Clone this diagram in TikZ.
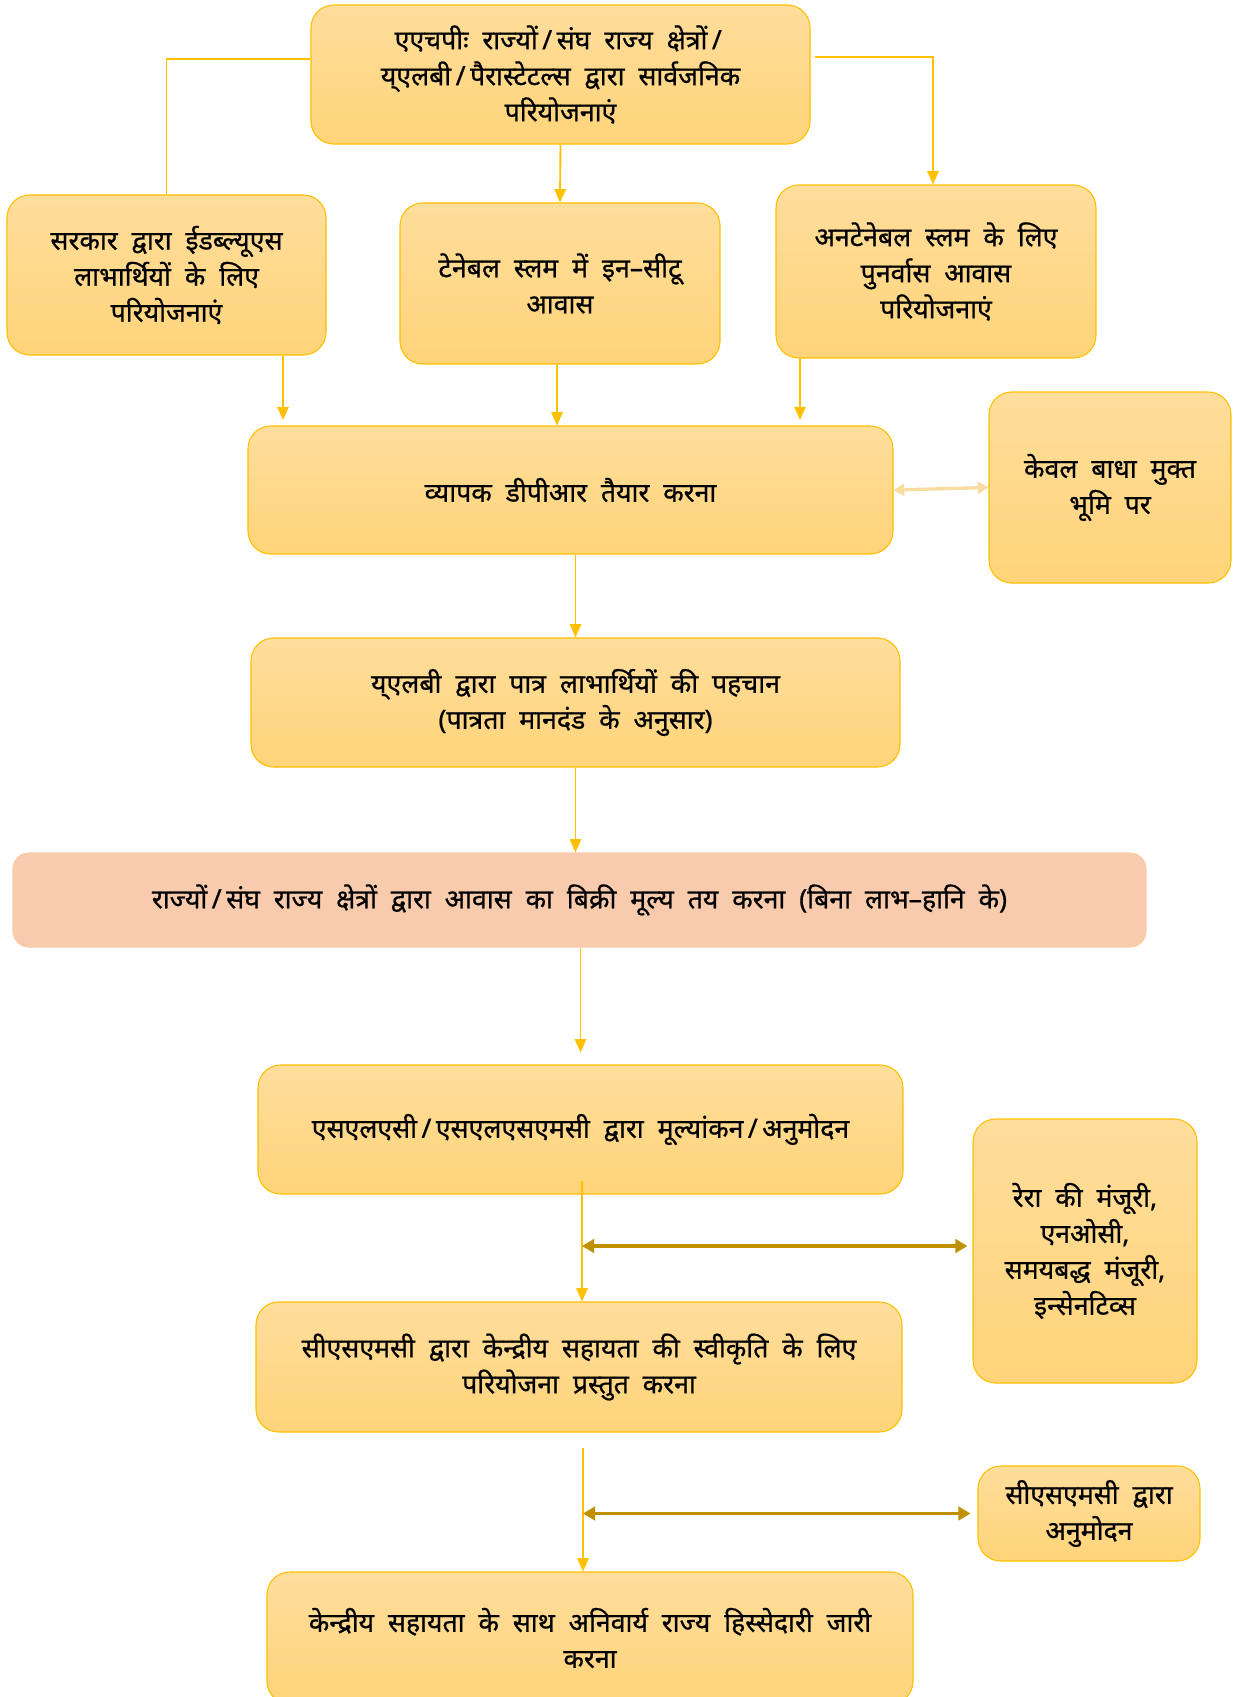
\documentclass[tikz,border=0pt]{standalone}
\usepackage{fontspec}
\newfontfamily\dev[Script=Devanagari,WordSpace=2,FakeBold=0.7]{Noto Sans}
\usetikzlibrary{arrows.meta,calc}
\definecolor{gold}{HTML}{FFC000}
\definecolor{dgold}{HTML}{BF9000}
\definecolor{palegold}{HTML}{F8DCA0}
\definecolor{boxtop}{HTML}{FFDD9C}
\definecolor{boxbot}{HTML}{FFD479}
\definecolor{salmonfill}{HTML}{F8CBAD}
\newcommand\slsep{\,/\,}
\tikzset{
  bw/.style={minimum width=#1*0.75pt},
  bh/.style={minimum height=#1*0.75pt},
  box/.style={draw=gold, line width=0.8pt, rounded corners=17pt,
    top color=boxtop, bottom color=boxbot, align=center,
    font=\dev\fontsize{20}{27}\selectfont, inner sep=0pt},
  salbox/.style={draw=salmonfill, fill=salmonfill, line width=0.8pt, rounded corners=12pt,
    align=center, font=\dev\fontsize{20}{27}\selectfont, inner sep=0pt},
  ln/.style={draw=gold, line width=1.4pt},
  arr/.style={draw=gold, line width=1.4pt, -{Triangle[width=8.5pt,length=10pt]}},
  darr/.style={draw=dgold, line width=2.5pt,
    {Triangle[width=10pt,length=9pt]}-{Triangle[width=10pt,length=9pt]}},
  parr/.style={draw=palegold, line width=2.5pt,
    {Triangle[width=9pt,length=8pt]}-{Triangle[width=9pt,length=8pt]}},
}
\begin{document}
\begin{tikzpicture}[x=0.75pt,y=-0.75pt]
\clip (0,0) rectangle (1234,1697);
\fill[white] (0,0) rectangle (1234,1697);

\node[box,bw=499,bh=139] (top) at (560.5,74.5)
  {एएचपीः राज्यों\slsep संघ राज्य क्षेत्रों\slsep\\य्एलबी\slsep पैरास्टेटल्स द्वारा सार्वजनिक\\परियोजनाएं};
\node[box,bw=319,bh=160] (left) at (166.5,275)
  {सरकार द्वारा ईडब्ल्यूएस\\लाभार्थियों के लिए\\परियोजनाएं};
\node[box,bw=320,bh=161] (mid) at (560,283.5)
  {टेनेबल स्लम में इन–सीटू\\आवास};
\node[box,bw=320,bh=173] (right) at (936,271.5)
  {अनटेनेबल स्लम के लिए\\पुनर्वास आवास\\परियोजनाएं};
\node[box,bw=645,bh=128] (dpr) at (570.5,490)
  {व्यापक डीपीआर तैयार करना};
\node[box,bw=242,bh=191] (kewal) at (1110,487.5)
  {केवल बाधा मुक्त\\भूमि पर};
\node[box,bw=649,bh=129] (ulb) at (575.5,702.5)
  {य्एलबी द्वारा पात्र लाभार्थियों की पहचान\\(पात्रता मानदंड के अनुसार)};
\node[salbox,bw=1133,bh=94] (price) at (579.5,900)
  {राज्यों\slsep संघ राज्य क्षेत्रों द्वारा आवास का बिक्री मूल्य तय करना (बिना लाभ–हानि के)};
\node[box,bw=645,bh=129] (slsc) at (580.5,1129.5)
  {एसएलएसी\slsep एसएलएसएमसी द्वारा मूल्यांकन\slsep अनुमोदन};
\node[box,bw=224,bh=264] (rera) at (1085,1251)
  {रेरा की मंजूरी,\\एनओसी,\\समयबद्ध मंजूरी,\\इन्सेनटिव्स};
\node[box,bw=646,bh=130] (csmc) at (579,1367)
  {सीएसएमसी द्वारा केन्द्रीय सहायता की स्वीकृति के लिए\\परियोजना प्रस्तुत करना};
\node[box,bw=222,bh=95] (appr) at (1089,1513.5)
  {सीएसएमसी द्वारा\\अनुमोदन};
\node[box,bw=646,bh=132] (final) at (590,1638)
  {केन्द्रीय सहायता के साथ अनिवार्य राज्य हिस्सेदारी जारी\\करना};

% top connectors
\draw[ln] ($(top.west)+(0,-15.5)$) -| (left.north);
\draw[arr] ($(top.east)+(4,-17.5)$) -| ($(right.north)+(-3,0)$);
\draw[arr] (top.south) -- (mid.north);

% into DPR
\coordinate (k3) at ($(left.south)+(116.5,0)$);
\coordinate (k4) at ($(right.south)+(-136,0)$);
\coordinate (k5) at ($(mid.south)+(-3,0)$);
\draw[arr, shorten >=4pt] (k3) -- (k3 |- dpr.north);
\draw[arr] (k5) -- (k5 |- dpr.north);
\draw[arr, shorten >=4pt] (k4) -- (k4 |- dpr.north);
\draw[parr] (dpr.east) -- (kewal.west);

% main chain
\draw[arr] (ulb.north |- dpr.south) -- (ulb.north);
\draw[arr] (ulb.south) -- (ulb.south |- price.north);
\draw[arr, shorten >=9pt] (slsc.north |- price.south) -- (slsc.north);
\coordinate (k1) at ($(slsc.south)+(1.5,-14)$);
\draw[arr] (k1) -- (k1 |- csmc.north);
\coordinate (h1) at ($(rera.west)+(-5,-5)$);
\draw[darr] (k1 |- h1) -- (h1);
\coordinate (k2) at ($(csmc.south)+(4,15)$);
\draw[arr] (k2) -- (k2 |- final.north);
\coordinate (h2) at ($(appr.west)+(-7,0)$);
\draw[darr] (k2 |- h2) -- (h2);
\end{tikzpicture}
\end{document}
